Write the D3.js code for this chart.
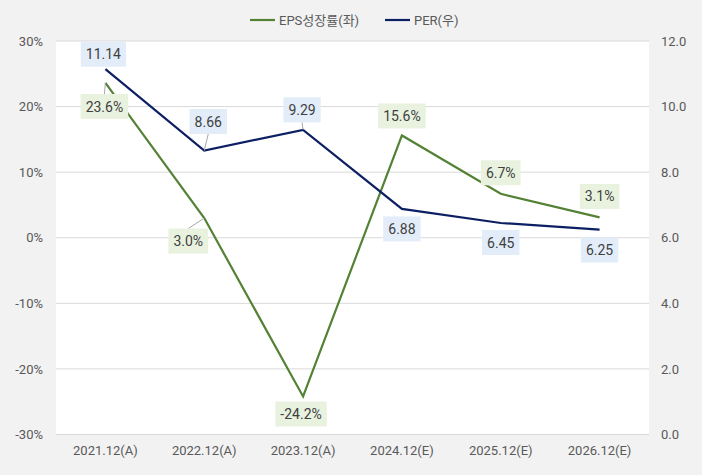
<!DOCTYPE html>
<html><head><meta charset="utf-8">
<script src="https://cdn.jsdelivr.net/npm/d3@7"></script>
<style>
html,body{margin:0;padding:0;background:#f2f2f2;}
svg{display:block;font-family:Roboto,"Noto Sans CJK KR",sans-serif;}
</style></head>
<body><svg id="c" width="702" height="475"></svg>
<script>
const categories = ["2021.12(A)","2022.12(A)","2023.12(A)","2024.12(E)","2025.12(E)","2026.12(E)"];
const epsGrowth = [23.6, 3.0, -24.2, 15.6, 6.7, 3.1];
const per = [11.14, 8.66, 9.29, 6.88, 6.45, 6.25];
const leftTicks = [-30,-20,-10,0,10,20,30];
const rightTicks = [0,2,4,6,8,10,12];
const seriesNames = ["EPS성장률(좌)","PER(우)"];

// label layout offsets (box center relative to point)
const epsLabelOff = [[-1,23.5],[-16,23],[-2,17.5],[0,-19.5],[0,-21],[0,-21]];
const perLabelOff = [[-2,-15],[4,-29],[-1,-20],[0,20],[0,19.5],[0,20.5]];
const epsLeader = [true,true,false,false,false,false];
const perLeader = [false,true,true,false,false,false];

const W=702,H=475, m={l:56,r:53,t:41,b:40.5};
const svg=d3.select("#c");
svg.append("rect").attr("x",m.l).attr("y",m.t).attr("width",W-m.l-m.r).attr("height",H-m.t-m.b).attr("fill","#fff");
const x=d3.scaleBand().domain(categories).range([m.l,W-m.r]);
const yL=d3.scaleLinear().domain([-30,30]).range([H-m.b,m.t]);
const yR=d3.scaleLinear().domain([0,12]).range([H-m.b,m.t]);
const cx=d=>x(d)+x.bandwidth()/2;

// gridlines
svg.append("g").selectAll("line").data(leftTicks).join("line")
 .attr("x1",m.l).attr("x2",W-m.r).attr("y1",d=>yL(d)).attr("y2",d=>yL(d))
 .attr("stroke","#d9d9d9").attr("stroke-width",1);

// axes
const gL=svg.append("g").attr("transform",`translate(${m.l},0)`)
 .call(d3.axisLeft(yL).tickValues(leftTicks).tickFormat(d=>d+"%").tickSize(0).tickPadding(13));
const gR=svg.append("g").attr("transform",`translate(${W-m.r},0)`)
 .call(d3.axisRight(yR).tickValues(rightTicks).tickFormat(d3.format(".1f")).tickSize(0).tickPadding(12));
const gB=svg.append("g").attr("transform",`translate(0,${H-m.b})`)
 .call(d3.axisBottom(x).tickSize(0).tickPadding(11));
[gL,gR,gB].forEach(g=>{g.select(".domain").remove();
 g.selectAll("text").attr("fill","#595959").attr("font-size","13px").style("font-family","Roboto,'Noto Sans CJK KR',sans-serif");});

const green="#548235", navy="#0d1f63";
const line=(ys)=>d3.line().x((d,i)=>cx(categories[i])).y((d)=>ys(d));
svg.append("path").datum(epsGrowth).attr("d",line(yL)).attr("fill","none").attr("stroke",green).attr("stroke-width",2.2);
svg.append("path").datum(per).attr("d",line(yR)).attr("fill","none").attr("stroke",navy).attr("stroke-width",2.2);

function labels(vals,ys,offs,leads,fmt,bg){
 const g=svg.append("g");
 vals.forEach((v,i)=>{
  const px=cx(categories[i]), py=ys(v);
  const lx=px+offs[i][0], ly=py+offs[i][1];
  const t=fmt(v);
  const txt=g.append("text").attr("x",lx).attr("y",ly).attr("text-anchor","middle").attr("dy","0.36em")
   .attr("font-size","14px").attr("fill","#404040").text(t);
  const bb=txt.node().getBBox();
  const bw=bb.width+10, bh=25;
  if(leads[i]){
   const ey = offs[i][1]>0 ? ly-bh/2 : ly+bh/2;
   const ex = lx + (offs[i][0]!==0 ? -offs[i][0]*0.0 : 0);
   g.insert("line","text").attr("x1",px).attr("y1",py).attr("x2",ex).attr("y2",ey)
    .attr("stroke","#a6a6a6").attr("stroke-width",1);
  }
  g.insert("rect","text").attr("x",lx-bw/2).attr("y",ly-bh/2).attr("width",bw).attr("height",bh).attr("fill",bg);
 });
}
labels(epsGrowth,yL,epsLabelOff,epsLeader,v=>v.toFixed(1)+"%","#e8f2df");
labels(per,yR,perLabelOff,perLeader,v=>v.toFixed(2),"#e3edf9");

// legend
const lg=svg.append("g");
const items=[{n:seriesNames[0],c:green,x:250},{n:seriesNames[1],c:navy,x:385}];
items.forEach(it=>{
 lg.append("line").attr("x1",it.x).attr("x2",it.x+25).attr("y1",20).attr("y2",20).attr("stroke",it.c).attr("stroke-width",2.2);
 lg.append("text").attr("x",it.x+29).attr("y",20).attr("dy","0.36em").attr("font-size","13px").attr("fill","#595959").text(it.n);
});
</script></body></html>
